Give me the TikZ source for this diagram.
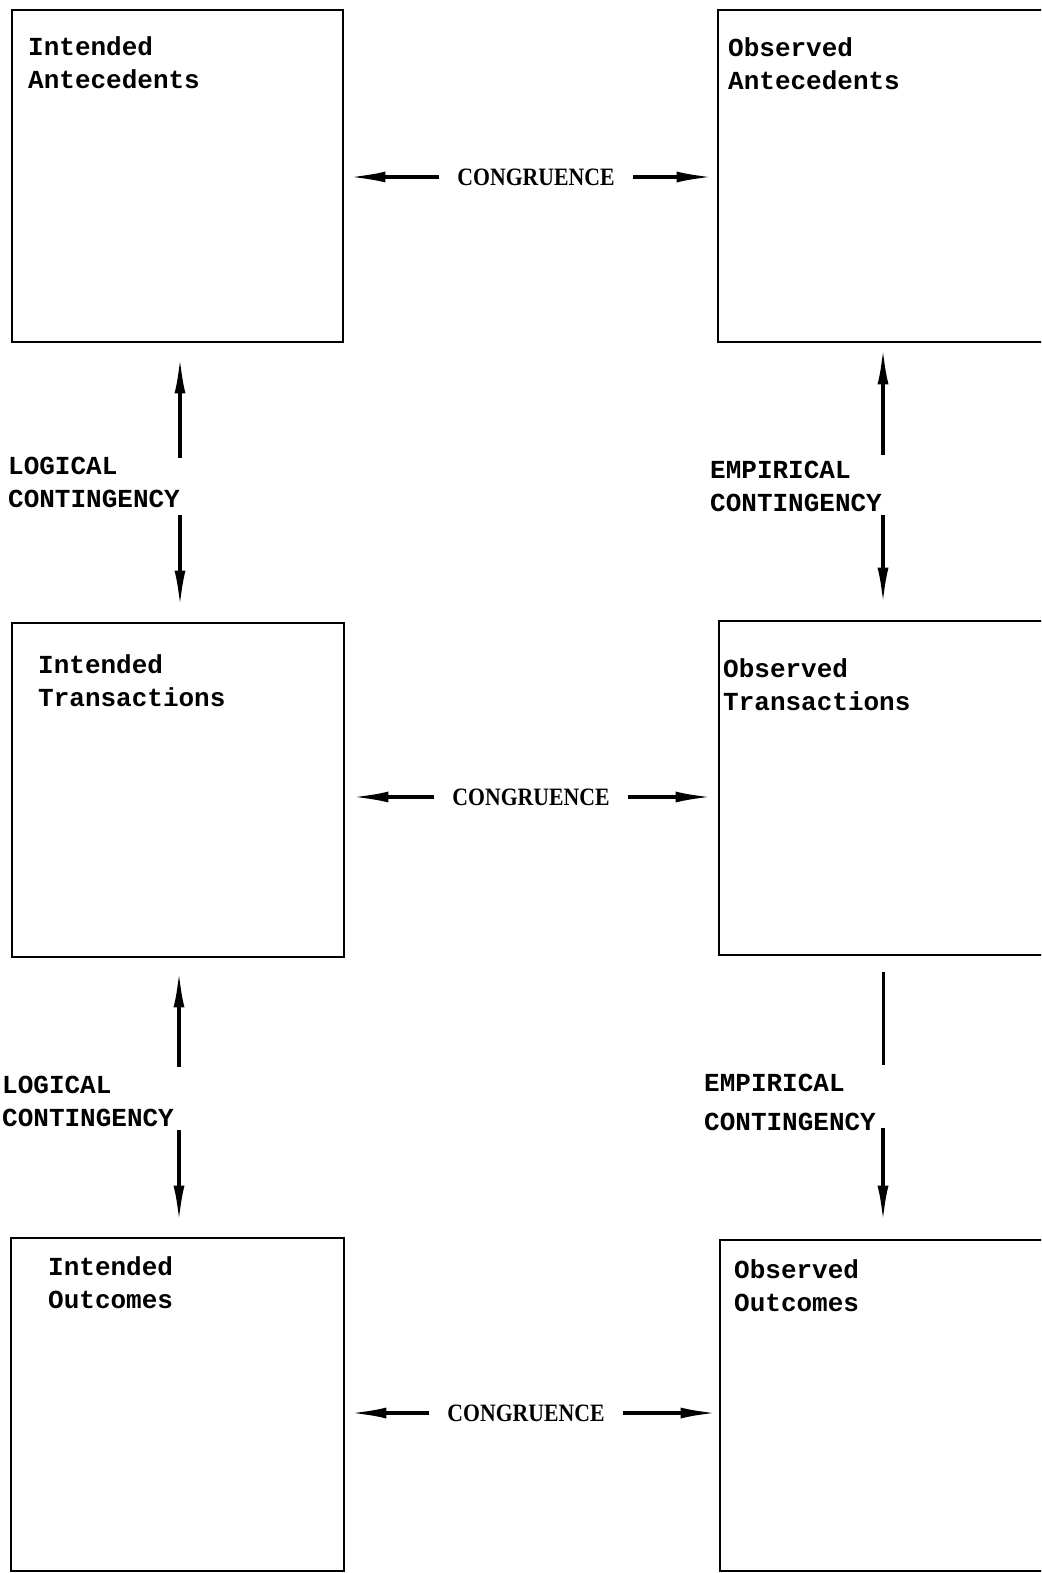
\documentclass[tikz,border=0pt]{standalone}
\usepackage{fontspec}
\setmainfont{Liberation Serif}
\newfontfamily\tw{Liberation Mono}
\usetikzlibrary{arrows.meta}
\begin{document}
\begin{tikzpicture}[x=1pt,y=-1pt,
  boxnode/.style={draw, line width=2.8pt, inner sep=0pt, minimum width=#1},
  title/.style={anchor=north west, inner sep=0pt, align=left, font=\tw\bfseries\fontsize{26}{33}\selectfont},
  cong/.style={inner ysep=0pt, inner xsep=18pt, font=\bfseries\fontsize{25}{28}\selectfont},
  arr/.style={line width=3.2pt, -{Latex[length=36pt,width=11pt]}},
  plain/.style={line width=3pt}]
\useasboundingbox (0,0) rectangle (1041,1573);
\clip (0,0) rectangle (1041,1573);
% boxes
\node[boxnode=331, minimum height=332] (ia) at (177.5,176) {};
\node[boxnode=342, minimum height=332] (oa) at (889,176) {};
\node[boxnode=332, minimum height=334] (it) at (178,790) {};
\node[boxnode=342, minimum height=334] (ot) at (890,788) {};
\node[boxnode=333, minimum height=333] (io) at (177.5,1404.5) {};
\node[boxnode=342, minimum height=331] (oo) at (891,1405.5) {};
% titles
\node[title] (iat) at (28,36) {Intended\\Antecedents};
\node[title] (oat) at (728,37) {Observed\\Antecedents};
\node[title] (itt) at (38,654) {Intended\\Transactions};
\node[title] (ott) at (723,658) {Observed\\Transactions};
\node[title] (iot) at (48,1256) {Intended\\Outcomes};
\node[title] (oot) at (734,1259) {Observed\\Outcomes};
% contingency labels
\node[title] (lc1) at (8,457) {LOGICAL\\CONTINGENCY};
\node[title] (ec1) at (710,461) {EMPIRICAL\\CONTINGENCY};
\node[title] (lc2) at (2,1076) {LOGICAL\\CONTINGENCY};
\node[title] (ec2) at (704,1074) {EMPIRICAL\\[6pt]CONTINGENCY};
% congruence labels
\node[cong] (cg1) at (536,177) {\scalebox{0.87}[1]{CONGRUENCE}};
\node[cong] (cg2) at (531,797) {\scalebox{0.87}[1]{CONGRUENCE}};
\node[cong] (cg3) at (526,1413) {\scalebox{0.87}[1]{CONGRUENCE}};
\draw[arr, shorten >=5pt] (cg1.west) -- (cg1.west -| ia.east);
\draw[arr, shorten >=4pt] (cg1.east) -- (cg1.east -| oa.west);
\draw[arr, shorten >=7pt] (cg2.west) -- (cg2.west -| it.east);
\draw[arr, shorten >=6pt] (cg2.east) -- (cg2.east -| ot.west);
\draw[arr, shorten >=5pt] (cg3.west) -- (cg3.west -| io.east);
\draw[arr, shorten >=2pt] (cg3.east) -- (cg3.east -| oo.west);
% vertical arrows
\coordinate (l1u) at (180,458);
\coordinate (l1d) at (180,515);
\coordinate (l2u) at (179,1067);
\coordinate (l2d) at (179,1130);
\coordinate (r1u) at (883,455);
\coordinate (r1d) at (883,515);
\coordinate (r2u) at (883,1065);
\coordinate (r2t) at (883,972);
\coordinate (r2d) at (883,1128);
\draw[arr, shorten >=14pt] (l1u) -- (l1u |- ia.south);
\draw[arr, shorten >=15pt] (l1d) -- (l1d |- it.north);
\draw[arr, shorten >=13pt] (l2u) -- (l2u |- it.south);
\draw[arr, shorten >=15pt] (l2d) -- (l2d |- io.north);
\draw[arr, shorten >=5pt] (r1u) -- (r1u |- oa.south);
\draw[arr, shorten >=16pt] (r1d) -- (r1d |- ot.north);
\draw[plain] (r2t) -- (r2u);
\draw[arr, shorten >=17pt] (r2d) -- (r2d |- oo.north);
\end{tikzpicture}
\end{document}
